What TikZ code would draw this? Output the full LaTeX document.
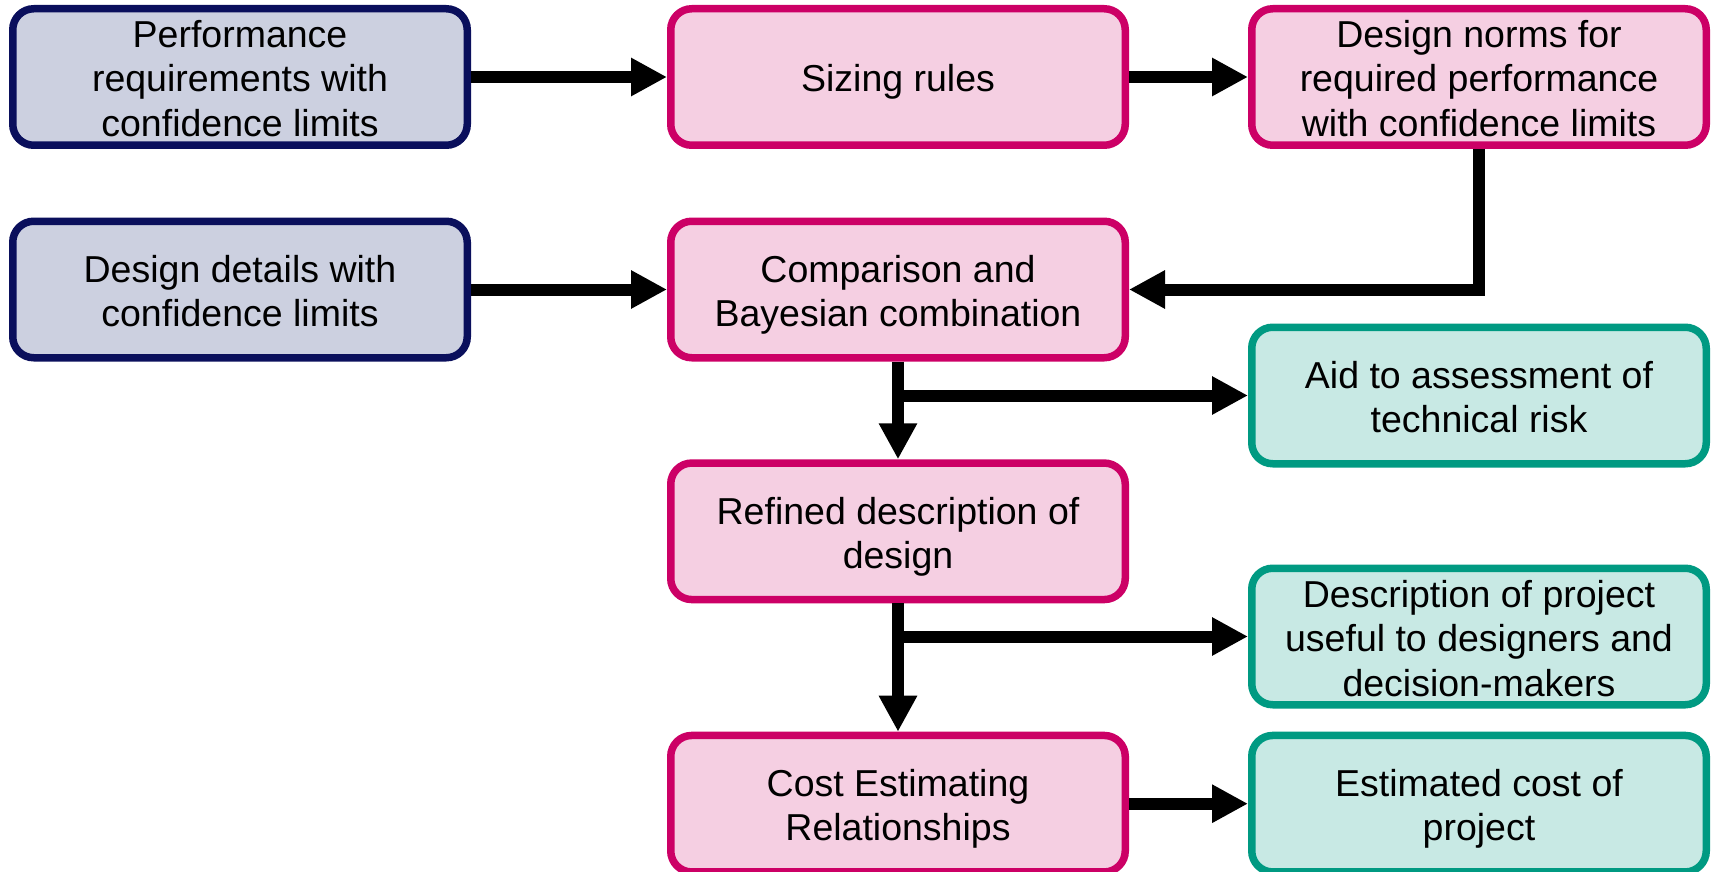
\documentclass[tikz,border=0pt]{standalone}
\usepackage{fontspec}
\setmainfont{Liberation Sans}
\usetikzlibrary{arrows.meta}

\definecolor{navyline}{HTML}{0A0F5C}
\definecolor{navyfill}{HTML}{CCD0E0}
\definecolor{pinkline}{HTML}{CC0066}
\definecolor{pinkfill}{HTML}{F5CFE2}
\definecolor{tealline}{HTML}{009A82}
\definecolor{tealfill}{HTML}{C8E9E4}

% struts that fix the height of the first line and the depth of the last
\newcommand\topstrut{\rule{0pt}{38pt}}
\newcommand\botstrut{\rule[-8pt]{0pt}{8pt}}

\tikzset{
  box/.style={rectangle, rounded corners=21pt, line width=7.5pt,
    minimum width=454.5pt, minimum height=136.5pt, inner sep=0pt,
    align=center, font=\fontsize{37.5}{44.5}\selectfont, text=black},
  inbox/.style={box, draw=navyline, fill=navyfill},
  procbox/.style={box, draw=pinkline, fill=pinkfill},
  outbox/.style={box, draw=tealline, fill=tealfill},
  flow/.style={line width=12pt, -{Triangle[length=36pt, width=36pt]}}
}

\begin{document}
\begin{tikzpicture}[x=1pt, y=-1pt]
  \useasboundingbox (0,0) rectangle (1714,872);

  % inputs
  \node[inbox] (perf) at (240,77) {\topstrut Performance\\requirements with\\confidence limits\botstrut};
  \node[inbox] (details) at (240,289.5) {\topstrut Design details with\\confidence limits\botstrut};

  % processing steps
  \node[procbox] (sizing) at (898,77) {\topstrut Sizing rules\botstrut};
  \node[procbox] (norms) at (1479,77) {\topstrut Design norms for\\required performance\\with confidence limits\botstrut};
  \node[procbox] (comp) at (898,289.5) {\topstrut Comparison and\\Bayesian combination\botstrut};
  \node[procbox] (refined) at (898,531.3) {\topstrut Refined description of\\design\botstrut};
  \node[procbox] (cer) at (898,803.7) {\topstrut Cost Estimating\\Relationships\botstrut};

  % outputs
  \node[outbox] (aid) at (1479,395.5) {\topstrut Aid to assessment of\\technical risk\botstrut};
  \node[outbox] (desc) at (1479,636.5) {\topstrut Description of project\\useful to designers and\\decision-makers\botstrut};
  \node[outbox] (cost) at (1479,803.7) {\topstrut Estimated cost of\\project\botstrut};

  % connectors
  \draw[flow] (perf.east) -- (sizing.west);
  \draw[flow] (sizing.east) -- (norms.west);
  \draw[flow] (details.east) -- (comp.west);
  \draw[flow] (norms.south) |- (comp.east);
  \draw[flow] (comp.south) -- (refined.north);
  \draw[flow] (comp.south |- aid.west) -- (aid.west);
  \draw[flow] (refined.south) -- (cer.north);
  \draw[flow] (refined.south |- desc.west) -- (desc.west);
  \draw[flow] (cer.east) -- (cost.west);
\end{tikzpicture}
\end{document}
